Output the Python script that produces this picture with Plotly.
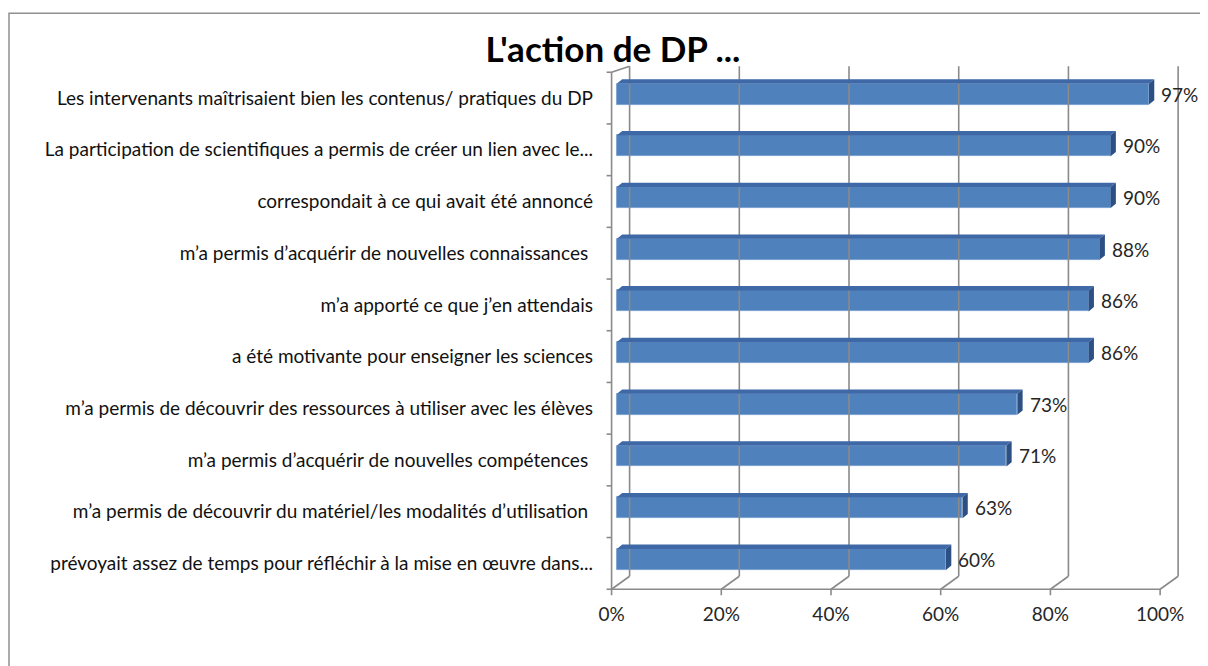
import plotly.graph_objects as go

# ---------------- data ----------------
categories = [
    "prévoyait assez de temps pour réfléchir à la mise en œuvre dans...",
    "m’a permis de découvrir du matériel/les modalités d’utilisation ",
    "m’a permis d’acquérir de nouvelles compétences ",
    "m’a permis de découvrir des ressources à utiliser avec les élèves",
    "a été motivante pour enseigner les sciences",
    "m’a apporté ce que j’en attendais",
    "m’a permis d’acquérir de nouvelles connaissances ",
    "correspondait à ce qui avait été annoncé",
    "La participation de scientifiques a permis de créer un lien avec le...",
    "Les intervenants maîtrisaient bien les contenus/ pratiques du DP",
]
values = [0.60, 0.63, 0.71, 0.73, 0.86, 0.86, 0.88, 0.90, 0.90, 0.97]
x_ticks = [0, 0.2, 0.4, 0.6, 0.8, 1.0]
x_tick_labels = ["0%", "20%", "40%", "60%", "80%", "100%"]
title_text = "L'action de DP ..."

# ---------------- geometry / style ----------------
OFF = 8                            # page body margin
FIG_W, FIG_H = 1208 - OFF, 666 - OFF
X0_PX, X1_PX = 612 - OFF, 1160 - OFF   # front plane 0% and 100%
Y_BOT_PX = 589 - OFF                    # front floor line
PPX = X1_PX - X0_PX
PPY = 51.7
XLO, XHI = -0.012, 1.08
YLO, YHI = -0.65, 9.64

DX, DY = 18 / PPX, 13 / PPY        # wall depth
BFX, BFY = 5.3 / PPX, 4.0 / PPY    # bar front plane offset
BDX, BDY = 5.3 / PPX, 4.3 / PPY    # bar depth
BAR_W = 0.406
GRID_TOP = 9.5 + 6 / PPY

ml = X0_PX + XLO * PPX
pw = (XHI - XLO) * PPX
mr = FIG_W - ml - pw
mb = FIG_H - (Y_BOT_PX + (-0.5 - YLO) * PPY)
ph = (YHI - YLO) * PPY
mt = FIG_H - mb - ph

GRID_C = "#8a8a8a"
FONT = "Lato"
FS = 19
n = len(categories)
ypos = list(range(n))

fig = go.Figure()

# gridlines / walls / floor
gx, gy = [], []
for t in x_ticks:
    gx += [t + DX, t + DX, None]
    gy += [-0.5 + DY, GRID_TOP, None]
    gx += [t, t + DX, None]
    gy += [-0.5, -0.5 + DY, None]
    gx += [t, t, None]
    gy += [-0.5, -0.5 - 6 / PPY, None]
gx += [x_ticks[0], x_ticks[-1], None]
gy += [-0.5, -0.5, None]
gx += [0, 0, None]
gy += [-0.5, 9.5, None]
gx += [0, DX, None]
gy += [9.5, GRID_TOP, None]
for k in range(n + 1):
    gx += [-5 / PPX, 0, None]
    gy += [-0.5 + k, -0.5 + k, None]
fig.add_trace(go.Scatter(x=gx, y=gy, mode="lines",
                         line=dict(color=GRID_C, width=1.6),
                         hoverinfo="skip", showlegend=False))

# bar front faces
fig.add_trace(go.Bar(orientation="h", x=values, y=[p + BFY for p in ypos],
                     base=BFX, width=BAR_W,
                     marker=dict(color="#4f81bd", line=dict(color="#6f97cc", width=0.8)),
                     hoverinfo="skip", showlegend=False))

# top and side faces
tx, ty = [], []
sx, sy = [], []
for p, v in zip(ypos, values):
    x0 = BFX
    x1 = BFX + v
    yt = p + BFY + BAR_W / 2
    yb = p + BFY - BAR_W / 2
    tx += [x0, x0 + BDX, x1 + BDX, x1, x0, None]
    ty += [yt, yt + BDY, yt + BDY, yt, yt, None]
    sx += [x1, x1, x1 + BDX, x1 + BDX, x1, None]
    sy += [yb, yt, yt + BDY, yb + BDY, yb, None]
fig.add_trace(go.Scatter(x=tx, y=ty, mode="lines", fill="toself",
                         fillcolor="#3e69a6", line=dict(width=0, color="#3e69a6"),
                         hoverinfo="skip", showlegend=False))
fig.add_trace(go.Scatter(x=sx, y=sy, mode="lines", fill="toself",
                         fillcolor="#2d5084", line=dict(width=0, color="#2d5084"),
                         hoverinfo="skip", showlegend=False))

# data labels
for p, v in zip(ypos, values):
    fig.add_annotation(x=BFX + v + BDX + 5 / PPX, y=p + BFY, text=f"{v:.0%}",
                       showarrow=False, xanchor="left", yanchor="middle",
                       font=dict(family=FONT, size=FS, color="#262626"))

# outer border
fig.add_shape(type="rect", xref="paper", yref="paper",
              x0=(10 - OFF - ml) / pw, x1=(FIG_W + 20 - ml) / pw,
              y0=(FIG_H - mb - (FIG_H + 20)) / ph, y1=(FIG_H - mb - (13 - OFF)) / ph,
              line=dict(color="#909090", width=1.5))

fig.update_layout(
    width=FIG_W, height=FIG_H,
    margin=dict(l=ml, r=mr, t=mt, b=mb, pad=0),
    paper_bgcolor="white", plot_bgcolor="rgba(0,0,0,0)",
    bargap=0,
    title=dict(text=f"<b>{title_text}</b>", xref="container", yref="container",
               x=(613 - OFF) / FIG_W, y=1 - (50 - OFF) / FIG_H,
               xanchor="center", yanchor="middle",
               font=dict(family=FONT, size=35, color="#000000")),
    xaxis=dict(range=[XLO, XHI], tickvals=x_ticks, ticktext=x_tick_labels,
               showgrid=False, zeroline=False, showline=False, ticks="",
               ticklabelstandoff=4, automargin=False,
               tickfont=dict(family=FONT, size=FS, color="#262626")),
    yaxis=dict(range=[YLO, YHI], tickvals=ypos, ticktext=categories,
               showgrid=False, zeroline=False, showline=False, ticks="",
               ticklabelstandoff=11, automargin=False,
               tickfont=dict(family=FONT, size=FS, color="#111111")),
)

fig.write_html("out.html")
